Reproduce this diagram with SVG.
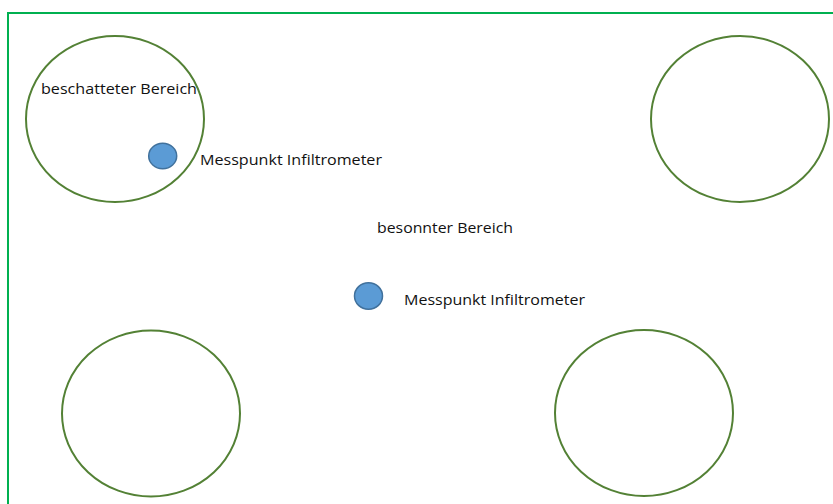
<svg xmlns="http://www.w3.org/2000/svg" width="833" height="504" viewBox="0 0 833 504">
<style>
.frame{fill:none;stroke:#00B050;stroke-width:2}
.tree{fill:none;stroke:#538135;stroke-width:2}
.pt{fill:#5B9BD5;stroke:#41719C;stroke-width:1.5}
.lbl{font-family:"Open Sans","Liberation Sans",sans-serif;font-size:15px;fill:#111}
</style>
<rect width="833" height="504" fill="#fff"/>
<rect class="frame" x="8" y="13" width="840" height="510"/>
<g id="shade-tl"><ellipse class="tree" cx="115" cy="119" rx="89" ry="83"/></g>
<g id="shade-tr"><ellipse class="tree" cx="740" cy="119" rx="89" ry="83"/></g>
<g id="shade-bl"><ellipse class="tree" cx="151" cy="413.5" rx="89" ry="83"/></g>
<g id="shade-br"><ellipse class="tree" cx="644" cy="413" rx="89" ry="83"/></g>
<g id="label-shaded"><text class="lbl" x="41" y="94" textLength="156" lengthAdjust="spacingAndGlyphs">beschatteter Bereich</text></g>
<g id="label-sunny"><text class="lbl" x="377" y="232.5" textLength="136" lengthAdjust="spacingAndGlyphs">besonnter Bereich</text></g>
<g id="point1"><ellipse class="pt" cx="162.7" cy="156" rx="14" ry="12.7"/></g>
<g id="point1-label"><text class="lbl" x="200" y="164.5" textLength="182" lengthAdjust="spacingAndGlyphs">Messpunkt Infiltrometer</text></g>
<g id="point2"><ellipse class="pt" cx="368.5" cy="296" rx="14" ry="13.3"/></g>
<g id="point2-label"><text class="lbl" x="404" y="305" textLength="181" lengthAdjust="spacingAndGlyphs">Messpunkt Infiltrometer</text></g>
<g id="connectors"></g>
</svg>
